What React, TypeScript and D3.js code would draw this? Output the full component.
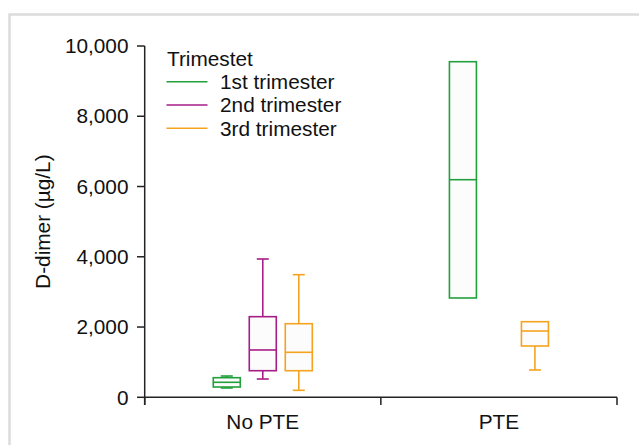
import React from 'react';
import * as d3 from 'd3';

// categories and series
const categories = ['No PTE', 'PTE'];
const trimesters = ['1st trimester', '2nd trimester', '3rd trimester'];
const colors = ['#22a03c', '#a61d87', '#f5a31e'];

// box stats per trimester (null = no box)
const noPteMin = [265, 521, 199];
const noPteQ1 = [293, 757, 757];
const noPteMedian = [427, 1347, 1281];
const noPteQ3 = [558, 2295, 2095];
const noPteMax = [606, 3937, 3490];

const pteMin = [2827, null, 777];
const pteQ1 = [2827, null, 1460];
const pteMedian = [6194, null, 1887];
const pteQ3 = [9553, null, 2152];
const pteMax = [9553, null, 2152];

const yTicks = [0, 2000, 4000, 6000, 8000, 10000];

const W = 639;
const H = 445;
const FONT = "'Liberation Sans', Arial, sans-serif";
const FS = 20.8;

const App = () => {
  const x0 = 144.7;
  const x1 = 617;
  const yScale = d3.scaleLinear().domain([0, 10000]).range([397.3, 46]);
  const xScale = d3.scaleBand().domain(categories).range([x0, x1]).padding(0);

  const stats = [
    { cat: 'No PTE', min: noPteMin, q1: noPteQ1, med: noPteMedian, q3: noPteQ3, max: noPteMax },
    { cat: 'PTE', min: pteMin, q1: pteQ1, med: pteMedian, q3: pteQ3, max: pteMax },
  ];

  const boxW = 27;
  const capW = 12;
  const fmt = d3.format(',');

  const boxes: any[] = [];
  stats.forEach((s) => {
    const c = (xScale(s.cat) as number) + xScale.bandwidth() / 2;
    const inner = d3.scalePoint().domain(trimesters).range([c - 36, c + 36]);
    trimesters.forEach((t, i) => {
      if (s.med[i] == null) return;
      const cx = inner(t) as number;
      const col = colors[i];
      const yq1 = yScale(s.q1[i] as number);
      const yq3 = yScale(s.q3[i] as number);
      const ymed = yScale(s.med[i] as number);
      const ymin = yScale(s.min[i] as number);
      const ymax = yScale(s.max[i] as number);
      boxes.push(
        <g key={s.cat + t} stroke={col} strokeWidth={1.6}>
          {ymax < yq3 - 0.5 && (
            <>
              <line x1={cx} x2={cx} y1={ymax} y2={yq3} />
              <line x1={cx - capW / 2} x2={cx + capW / 2} y1={ymax} y2={ymax} />
            </>
          )}
          {ymin > yq1 + 0.5 && (
            <>
              <line x1={cx} x2={cx} y1={yq1} y2={ymin} />
              <line x1={cx - capW / 2} x2={cx + capW / 2} y1={ymin} y2={ymin} />
            </>
          )}
          <rect x={cx - boxW / 2} y={yq3} width={boxW} height={yq1 - yq3} fill="#fcfcfc" />
          <line x1={cx - boxW / 2} x2={cx + boxW / 2} y1={ymed} y2={ymed} />
        </g>
      );
    });
  });

  const axisCol = '#222';

  return (
    <svg width={W} height={H} style={{ position: 'absolute', left: 0, top: 0, background: '#fff' }} fontFamily={FONT}>
      {/* outer frame */}
      <rect x={9.5} y={14.5} width={W} height={H} fill="none" stroke="#dcdcdc" strokeWidth={2.5} />

      {/* y axis */}
      <line x1={x0} x2={x0} y1={yScale(10000)} y2={405} stroke={axisCol} strokeWidth={1.5} />
      {yTicks.map((t) => (
        <g key={t}>
          <line x1={137} x2={x0} y1={yScale(t)} y2={yScale(t)} stroke={axisCol} strokeWidth={1.5} />
          <text x={128.5} y={yScale(t) + 7.2} textAnchor="end" fontSize={FS} fill="#111">
            {fmt(t)}
          </text>
        </g>
      ))}
      <text
        transform={`translate(49.5, ${(yScale(0) + yScale(10000)) / 2}) rotate(-90)`}
        textAnchor="middle"
        fontSize={FS}
        fill="#111"
      >
        D-dimer (µg/L)
      </text>

      {/* x axis */}
      <line x1={x0} x2={x1} y1={yScale(0)} y2={yScale(0)} stroke={axisCol} strokeWidth={1.5} />
      {[x0, ...categories.map((c) => (xScale(c) as number) + xScale.bandwidth())].map((v, i) => (
        <line key={i} x1={v} x2={v} y1={yScale(0)} y2={405} stroke={axisCol} strokeWidth={1.5} />
      ))}
      {categories.map((c) => (
        <text key={c} x={(xScale(c) as number) + xScale.bandwidth() / 2} y={429} textAnchor="middle" fontSize={FS} fill="#111">
          {c}
        </text>
      ))}

      {boxes}

      {/* legend */}
      <text x={167} y={65.5} fontSize={FS} fill="#111">Trimestet</text>
      {trimesters.map((t, i) => {
        const ly = 81.7 + i * 23.3;
        return (
          <g key={t}>
            <line x1={166.5} x2={207.5} y1={ly} y2={ly} stroke={colors[i]} strokeWidth={1.5} />
            <text x={220} y={ly + 7.2} fontSize={FS} fill="#111">{t}</text>
          </g>
        );
      })}
    </svg>
  );
};

export default App;
